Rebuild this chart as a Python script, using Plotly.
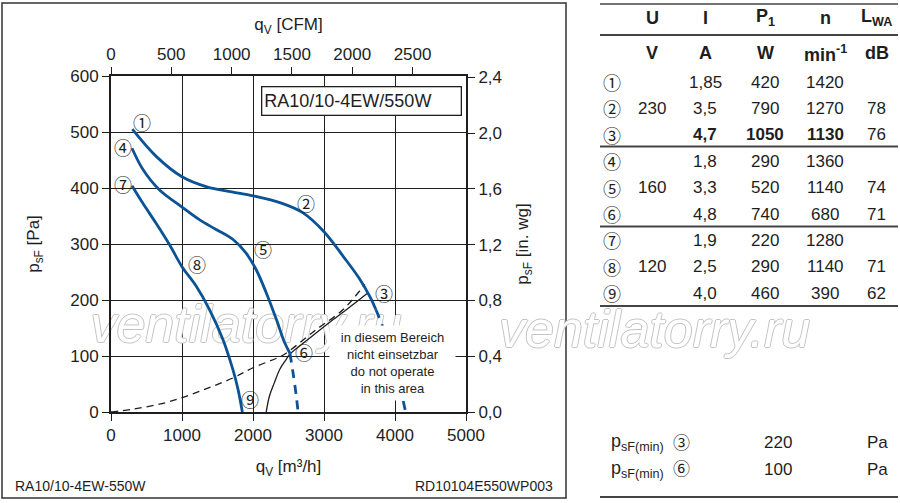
import plotly.graph_objects as go

# ---------------- data (q in m³/h, p in Pa) ----------------
q_230 = [300, 640, 1000, 1350, 1700, 2000, 2400, 2700, 3000, 3270, 3500, 3650, 3730]
p_230 = [505, 456, 420, 402, 393, 386, 373, 356, 322, 278, 238, 205, 183]
q_230_ext = [3730, 3810, 3900, 4000, 4080, 4150]
p_230_ext = [183, 158, 125, 85, 40, 0]

q_160 = [296, 450, 680, 1000, 1250, 1480, 1720, 1900, 2045, 2186, 2330, 2445, 2520]
p_160 = [471, 433, 397, 366, 343, 326, 308, 284, 254, 213, 165, 124, 105]
q_160_ext = [2520, 2570, 2610, 2635]
p_160_ext = [105, 65, 28, 0]

q_120 = [296, 447, 635, 823, 997, 1199, 1387, 1575, 1716, 1790, 1850]
p_120 = [404, 373, 337, 299, 260, 225, 183, 130, 76, 40, 0]

q_sys = [0, 300, 780, 1250, 1720, 2000, 2400, 2520, 2890, 3270, 3575]
p_sys = [0, 5, 17, 37, 61, 79, 100, 110, 147, 183, 228]

q_lim = [2186, 2233, 2300, 2376, 2468, 2517, 2800, 3130, 3410, 3620]
p_lim = [0, 29, 52, 76, 94, 103, 132, 165, 192, 213]

x_ticks = [0, 1000, 2000, 3000, 4000, 5000]
y_ticks = [0, 100, 200, 300, 400, 500, 600]
cfm_ticks = [0, 500, 1000, 1500, 2000, 2500]
inwg_ticks = [0.0, 0.4, 0.8, 1.2, 1.6, 2.0, 2.4]
inwg_text = ["0,0", "0,4", "0,8", "1,2", "1,6", "2,0", "2,4"]

point_marks = ["①", "②", "③", "④", "⑤", "⑥", "⑦", "⑧", "⑨"]
tab_U = ["", "230", "", "", "160", "", "", "120", ""]
tab_I = ["1,85", "3,5", "4,7", "1,8", "3,3", "4,8", "1,9", "2,5", "4,0"]
tab_P1 = ["420", "790", "1050", "290", "520", "740", "220", "290", "460"]
tab_n = ["1420", "1270", "1130", "1360", "1140", "680", "1280", "1140", "390"]
tab_LWA = ["", "78", "76", "", "74", "71", "", "71", "62"]
head_row = ["U", "I", "P<sub>1</sub>", "n", "L<sub>WA</sub>"]
unit_row = ["V", "A", "W", "min<sup>-1</sup>", "dB"]
psf_min_marks = ["③", "⑥"]
psf_min_vals = ["220", "100"]

CFM_PER_M3H = 0.588578
PA_PER_INWG = 249.089

# ---------------- layout helpers ----------------
L, R, T, B = 111, 466, 76, 412
W, H = 900, 503
X_MAX, Y_MAX = 5000, 600
def px(x):
    return (x - L) / (R - L)
def py(y):
    return (B - y) / (B - T)

FONT = "Liberation Sans, Arial, sans-serif"
CIRC = "Noto Sans CJK JP, DejaVu Sans"
INK = "#1e1e1e"
BLUE = "#0b5394"
WM = "Liberation Sans Narrow, Liberation Sans"
WM_FONT = dict(family=WM, size=52, color="white",
               shadow="1px 0 0 #c4c4c4, -1px 0 0 #c4c4c4, 0 1px 0 #c4c4c4, 0 -1px 0 #c4c4c4")
WM_TEXT = "<i>ventilatorry.ru</i>"

def note(x, y, text, size=17, family=FONT, xa="center", ya="middle", **kw):
    d = dict(x=px(x), y=py(y), xref="paper", yref="paper", text=text, showarrow=False,
             xanchor=xa, yanchor=ya, font=dict(family=family, size=size, color=INK))
    d.update(kw)
    return d

fig = go.Figure()

# watermark over the chart (drawn first so the curves lie on top of it)
fig.add_trace(go.Scatter(
    x=[px(246) * X_MAX], y=[py(329) * Y_MAX], mode="text",
    text=[WM_TEXT], textposition="middle center", cliponaxis=False,
    textfont=WM_FONT, hoverinfo="skip", showlegend=False))

# black limit lines
fig.add_trace(go.Scatter(x=q_sys, y=p_sys, mode="lines", line=dict(color=INK, width=1.3, dash="7px,5px"),
                         line_shape="spline", hoverinfo="skip", showlegend=False))
fig.add_trace(go.Scatter(x=q_lim, y=p_lim, mode="lines", line=dict(color=INK, width=1.3),
                         line_shape="spline", hoverinfo="skip", showlegend=False))

# blue characteristic curves
for qs, ps in [(q_230, p_230), (q_160, p_160), (q_120, p_120)]:
    fig.add_trace(go.Scatter(x=qs, y=ps, mode="lines", line=dict(color=BLUE, width=2.8),
                             line_shape="spline", hoverinfo="skip", showlegend=False))
for qs, ps in [(q_230_ext, p_230_ext), (q_160_ext, p_160_ext)]:
    fig.add_trace(go.Scatter(x=qs, y=ps, mode="lines", line=dict(color=BLUE, width=2.8, dash="9px,7px"),
                             line_shape="spline", hoverinfo="skip", showlegend=False))

# invisible trace on secondary (imperial) axes
fig.add_trace(go.Scatter(x=[q * CFM_PER_M3H for q in q_120], y=[p / PA_PER_INWG for p in p_120],
                         xaxis="x2", yaxis="y2", mode="lines", line=dict(width=0), opacity=0,
                         hoverinfo="skip", showlegend=False))

ann = []
# second watermark (outside the plot area, below the table)
ann.append(note(654, 329, WM_TEXT, font=WM_FONT))

# operating-point labels anchored to curve points with pixel offsets
anchors = [
    (q_230, p_230, 0, 10, 7), (q_230, p_230, 7, 3, 10), (q_230, p_230, -1, 8, 17),
    (q_160, p_160, 0, -9, 1), (q_160, p_160, 7, 17, 4), (q_160, p_160, -1, 14, 1),
    (q_120, p_120, 0, -9, 2), (q_120, p_120, 4, 15, 2), (q_120, p_120, -1, 8, 13),
]
for mark, (qs, ps, i, dx, dy) in zip(point_marks, anchors):
    ann.append(dict(x=qs[i], y=ps[i], xref="x", yref="y", text=mark, showarrow=False,
                    xanchor="center", yanchor="middle",
                    xshift=dx, yshift=dy, font=dict(family=CIRC, size=18, color=INK)))

# model box
ann.append(note(261, 101.5, "RA10/10-4EW/550W", size=18, xa="left", align="left", width=194, height=23,
                borderpad=2, bordercolor=INK, borderwidth=1.3, bgcolor="white"))

# do-not-operate box
ann.append(note(392.5, 363, "in diesem Bereich<br>nicht einsetzbar<br>do not operate<br>in this area",
                size=13, width=125, height=74, borderpad=0, bgcolor="white", align="center"))

# footer labels
ann.append(note(13, 486, "RA10/10-4EW-550W", size=14, xa="left"))
ann.append(note(555, 486, "RD10104E550WP003", size=14, xa="right"))

# table
col_x = [652, 705, 765, 825, 877]
for cx, h, u in zip(col_x, head_row, unit_row):
    ann.append(note(cx, 18, "<b>%s</b>" % h, size=18))
    ann.append(note(cx, 53, "<b>%s</b>" % u, size=18))
row_y = [82 + 26.4 * i for i in range(9)]
for r, yy in enumerate(row_y):
    ann.append(note(612, yy, point_marks[r], size=18, family=CIRC))
    vals = [tab_U[r], tab_I[r], tab_P1[r], tab_n[r], tab_LWA[r]]
    for c, (cx, v) in enumerate(zip(col_x, vals)):
        if not v:
            continue
        txt = "<b>%s</b>" % v if (r == 2 and c in (1, 2, 3)) else v
        ann.append(note(cx, yy, txt, size=17))

for k, yy in enumerate([443, 469]):
    ann.append(note(609, yy, "p<sub>sF(min)</sub>", size=18, xa="left"))
    ann.append(note(681, yy - 2, psf_min_marks[k], size=17, family=CIRC))
    ann.append(note(778, yy, psf_min_vals[k], size=17))
    ann.append(note(878, yy, "Pa", size=17))

shapes = []
# outer chart frame
shapes.append(dict(type="rect", xref="paper", yref="paper", x0=px(2), x1=px(566), y0=py(498), y1=py(3),
                   line=dict(color="#333333", width=1.5)))
# table rules
for yy, wdt in [(4, 1.5), (35, 2), (146.5, 2), (226.5, 2), (306, 2), (497, 2)]:
    shapes.append(dict(type="line", xref="paper", yref="paper", x0=px(600), x1=px(898), y0=py(yy), y1=py(yy),
                       line=dict(color="#444444", width=wdt)))

axis_common = dict(showline=True, linecolor=INK, linewidth=2, ticks="outside", ticklen=7, tickwidth=1.3,
                   tickcolor=INK, zeroline=False, tickfont=dict(family=FONT, size=17, color=INK))

fig.update_layout(
    width=W, height=H, margin=dict(l=L, r=W - R, t=T, b=H - B),
    paper_bgcolor="white", plot_bgcolor="white", showlegend=False,
    font=dict(family=FONT, color=INK),
    xaxis=dict(range=[0, X_MAX], tickvals=x_ticks, ticktext=[str(v) for v in x_ticks], showgrid=True,
               gridcolor=INK, gridwidth=1.3,
               title=dict(text="q<sub>V</sub> [m³/h]", font=dict(family=FONT, size=17, color=INK), standoff=16),
               **axis_common),
    yaxis=dict(range=[0, Y_MAX], tickvals=y_ticks, ticktext=[str(v) for v in y_ticks], showgrid=True,
               gridcolor=INK, gridwidth=1.3,
               title=dict(text="p<sub>sF</sub> [Pa]", font=dict(family=FONT, size=17, color=INK), standoff=26),
               **axis_common),
    xaxis2=dict(overlaying="x", side="top", anchor="y", range=[0, X_MAX * CFM_PER_M3H], tickvals=cfm_ticks,
                ticktext=[str(v) for v in cfm_ticks], showgrid=False,
                title=dict(text="q<sub>V</sub> [CFM]", font=dict(family=FONT, size=17, color=INK), standoff=10),
                **axis_common),
    yaxis2=dict(overlaying="y", side="right", anchor="x", range=[0, Y_MAX / PA_PER_INWG], tickvals=inwg_ticks,
                ticktext=inwg_text, showgrid=False,
                title=dict(text="p<sub>sF</sub> [in. wg]", font=dict(family=FONT, size=17, color=INK), standoff=15),
                **axis_common),
    annotations=ann, shapes=shapes,
)

fig.write_html("out.html", config={"displayModeBar": False},
               post_script="document.body.style.margin='0';")
